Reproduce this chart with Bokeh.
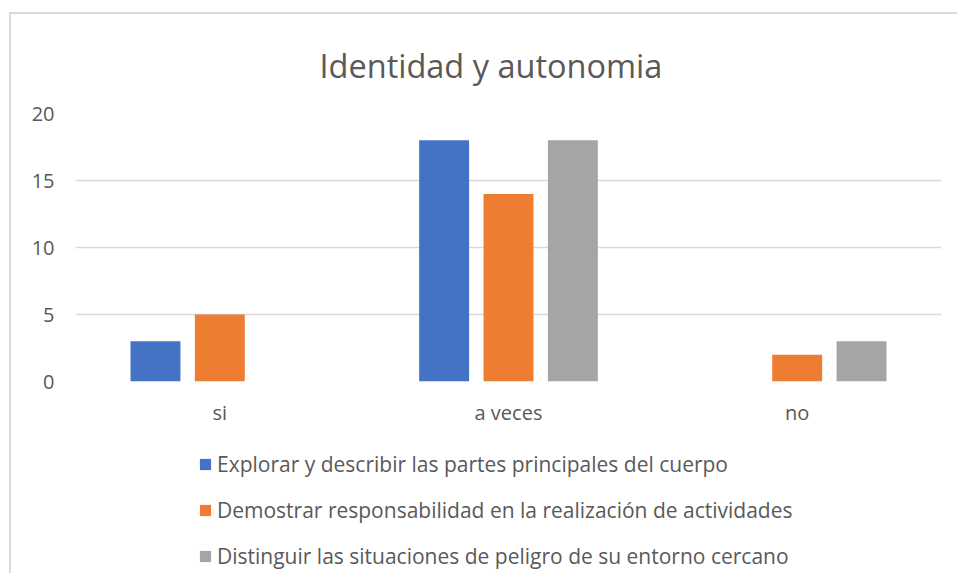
from bokeh.plotting import figure
from bokeh.models import ColumnDataSource, FixedTicker, Range1d, FactorRange, Legend, LegendItem
from bokeh.layouts import column
from bokeh.transform import dodge
from bokeh.embed import file_html
from bokeh.resources import INLINE

categories = ["si", "a veces", "no"]
series_names = [
    "Explorar y describir las partes principales del cuerpo",
    "Demostrar responsabilidad en la realización de actividades",
    "Distinguir las situaciones de peligro de su entorno cercano",
]
explorar = [3, 18, 0]
demostrar = [5, 14, 2]
distinguir = [0, 18, 3]
colors = ["#4472C4", "#ED7D31", "#A5A5A5"]
y_ticks = [0, 5, 10, 15, 20]

FONT = "Open Sans"
TXT = "#595959"

source = ColumnDataSource(dict(cat=categories, s0=explorar, s1=demostrar, s2=distinguir))

p = figure(
    width=946, height=416,
    x_range=FactorRange(*categories, range_padding=0),
    y_range=Range1d(0, 20),
    output_backend="svg", toolbar_location=None,
    min_border_left=64, min_border_right=16, min_border_top=99, min_border_bottom=49,
)
p.outline_line_color = None
p.background_fill_color = "white"
p.border_fill_color = "white"

p.title.text = "Identidad y autonomia"
p.title.text_font = FONT
p.title.text_font_size = "32.5px"
p.title.text_font_style = "normal"
p.title.text_color = TXT
p.title.align = "left"
p.title.offset = 244
p.title.standoff = 52

offsets = [-0.223, 0.0, 0.223]
for i, col in enumerate(["s0", "s1", "s2"]):
    p.vbar(x=dodge("cat", offsets[i], range=p.x_range), top=col, width=0.173,
           source=source, fill_color=colors[i], line_color=None)

p.yaxis.ticker = FixedTicker(ticks=y_ticks)
for ax in [p.xaxis[0], p.yaxis[0]]:
    ax.axis_line_color = None
    ax.major_tick_line_color = None
    ax.minor_tick_line_color = None
    ax.major_label_text_font = FONT
    ax.major_label_text_font_size = "20px"
    ax.major_label_text_color = TXT
p.yaxis.major_label_standoff = 15
p.xaxis.major_label_standoff = 11

p.xgrid.grid_line_color = None
p.ygrid.grid_line_color = "#d9d9d9"
p.ygrid.grid_line_width = 1.5

# legend panel (separate figure below the chart); its key glyphs sit outside its view
lg = figure(
    width=946, height=143, x_range=Range1d(0, 1), y_range=Range1d(0, 1),
    output_backend="svg", toolbar_location=None,
    x_axis_location=None, y_axis_location=None,
    min_border=0, min_border_left=0, min_border_right=0, min_border_top=0, min_border_bottom=0,
)
lg.outline_line_color = None
lg.xgrid.visible = False
lg.ygrid.visible = False
lg.background_fill_color = "white"
lg.border_fill_color = "white"
leg_renderers = [lg.vbar(x=[5], top=[-5], bottom=[-6], width=0, fill_color=colors[i], line_color=None)
                 for i in range(3)]

legend = Legend(
    items=[LegendItem(label=series_names[i], renderers=[leg_renderers[i]]) for i in range(3)],
    location=(123, 3),
    orientation="vertical",
    border_line_color=None,
    background_fill_alpha=0,
    padding=0, margin=0,
    glyph_width=14, glyph_height=14,
    label_standoff=5,
    label_height=27,
    spacing=18,
    label_text_font=FONT,
    label_text_font_size="21px",
    label_text_color=TXT,
)
lg.add_layout(legend, "center")

layout = column(p, lg, spacing=0)
layout.styles = {"border-left": "2px solid #d9d9d9", "border-top": "2px solid #d9d9d9",
                 "margin-left": "9px", "margin-top": "12px"}

open("out.html", "w").write(file_html(layout, INLINE))
